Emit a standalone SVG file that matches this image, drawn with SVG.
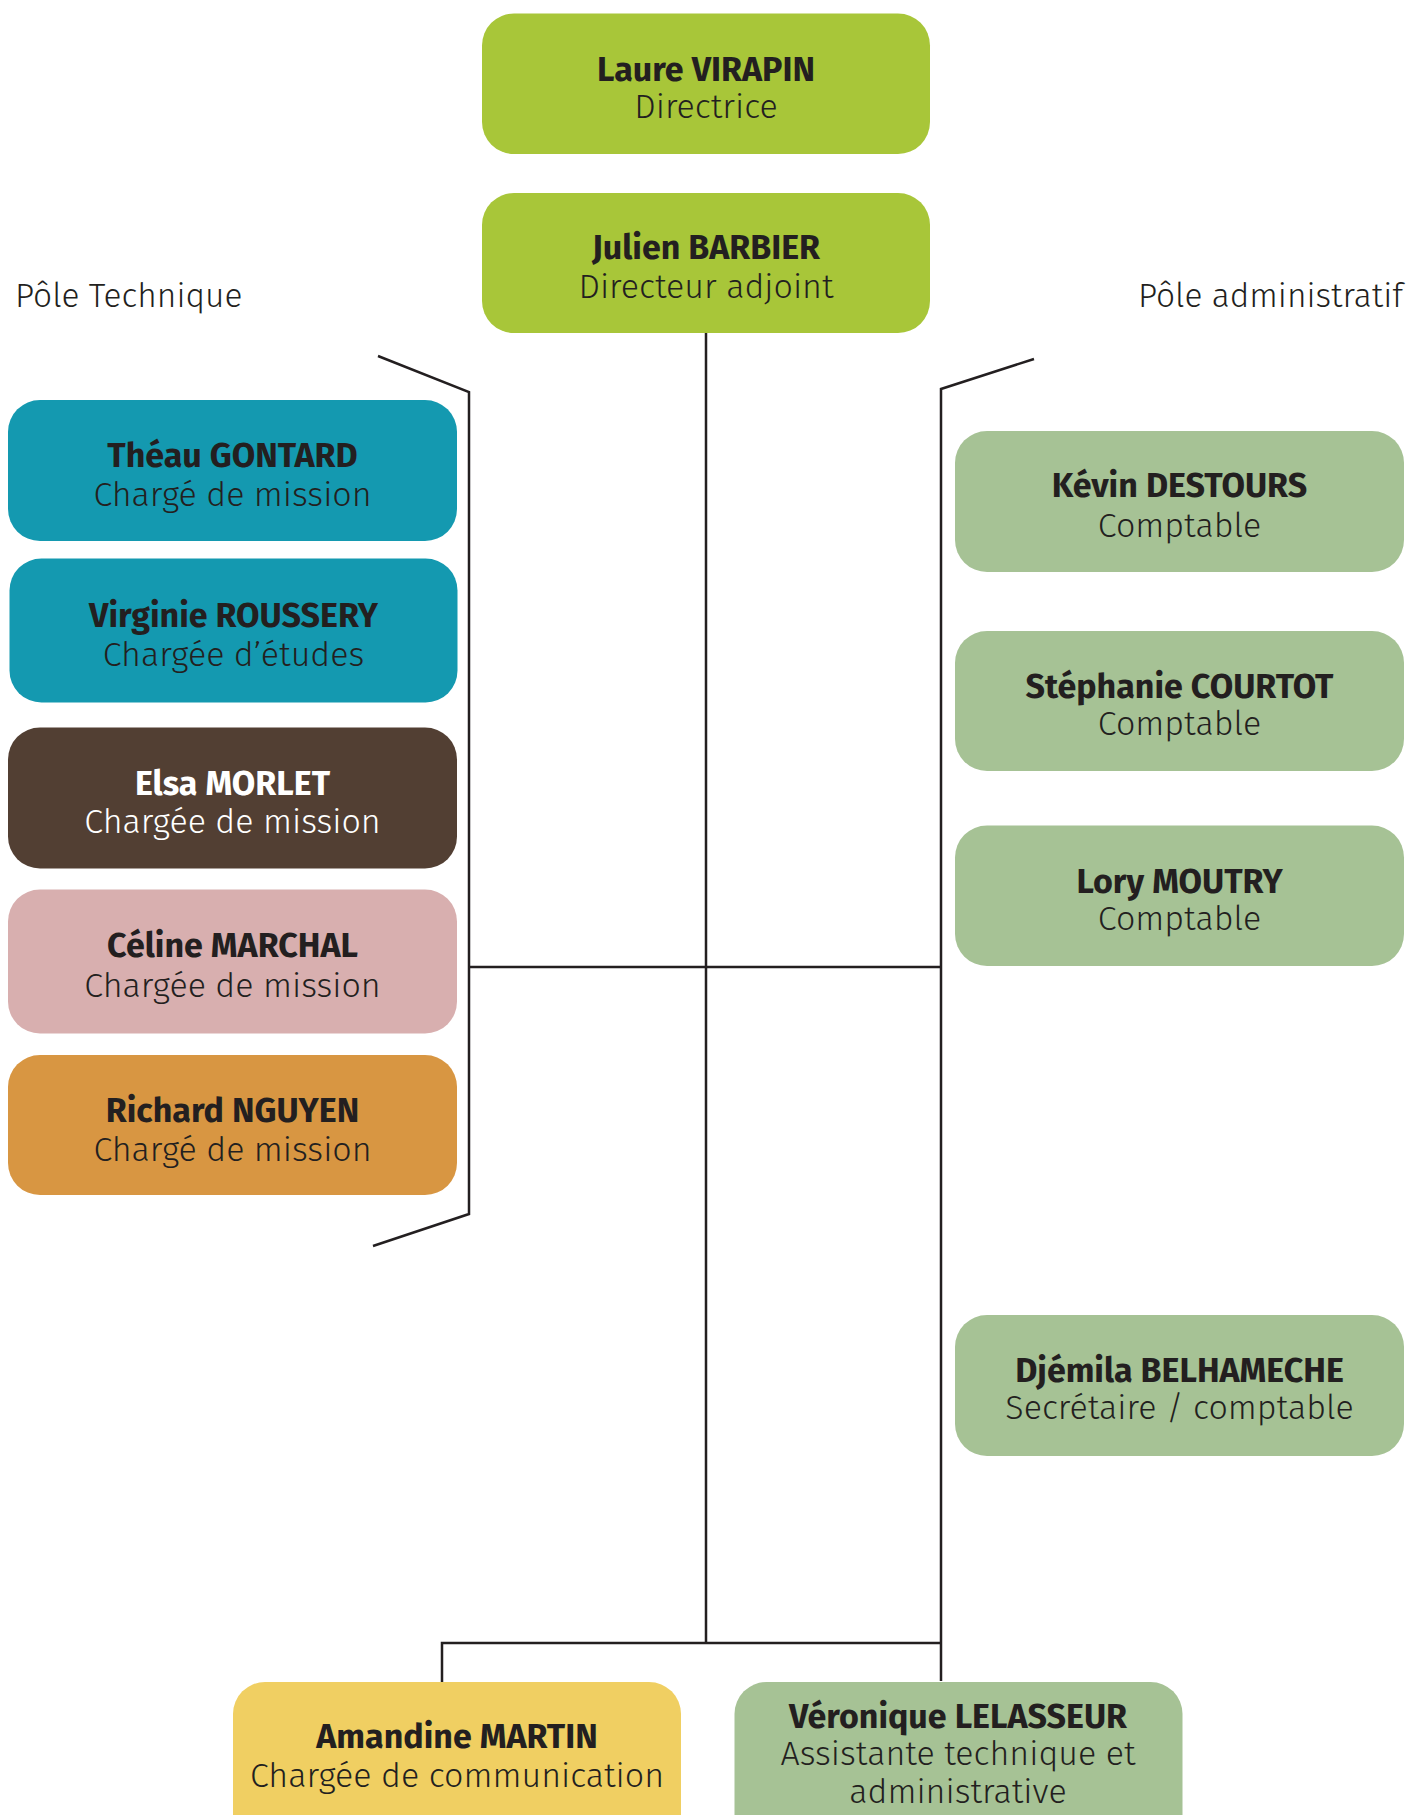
<svg xmlns="http://www.w3.org/2000/svg" width="1410" height="1815" viewBox="0 0 1410 1815">
<style>
.t{font-family:"Fira Sans",Lato,"Noto Sans",sans-serif;font-size:34px;font-weight:300;fill:#231F20;text-anchor:middle}
.b{font-weight:bold}
.w{fill:#FFFFFF}
.lbl{font-family:"Fira Sans",Lato,"Noto Sans",sans-serif;font-size:33.5px;font-weight:300;fill:#231F20}
.ln{fill:none;stroke:#231F20;stroke-width:2.5}
.lime{fill:#A8C639}.teal{fill:#1499B0}.brown{fill:#523F33}.pink{fill:#D8AFAF}.orange{fill:#D89642}.sage{fill:#A6C295}.yellow{fill:#F0CF62}
</style>
<rect width="1410" height="1815" fill="#FFFFFF"/>
<g id="connectors">
<polyline class="ln" points="378,356 469,392 469,1214 373,1246"/>
<polyline class="ln" points="1034,359 941,389 941,1681"/>
<line class="ln" x1="706" y1="333" x2="706" y2="1643"/>
<line class="ln" x1="469" y1="967" x2="941" y2="967"/>
<polyline class="ln" points="442,1683 442,1643 941,1643"/>
</g>
<text class="lbl" x="15" y="307">Pôle Technique</text>
<text class="lbl" x="1403" y="307" text-anchor="end">Pôle administratif</text>
<g id="laure"><rect class="lime" x="482" y="13.5" width="448" height="140.5" rx="32"/><text class="t b" x="706" y="81">Laure VIRAPIN</text><text class="t" x="706" y="118">Directrice</text></g>
<g id="julien"><rect class="lime" x="482" y="193" width="448" height="140" rx="32"/><text class="t b" x="706" y="259">Julien BARBIER</text><text class="t" x="706" y="298">Directeur adjoint</text></g>
<g id="theau"><rect class="teal" x="8" y="400" width="449" height="141" rx="32"/><text class="t b" x="232.5" y="467">Théau GONTARD</text><text class="t" x="232.5" y="506">Chargé de mission</text></g>
<g id="virginie"><rect class="teal" x="9.5" y="558.5" width="448" height="144" rx="32"/><text class="t b" x="233.5" y="627">Virginie ROUSSERY</text><text class="t" x="233.5" y="666">Chargée d’études</text></g>
<g id="elsa"><rect class="brown" x="8" y="727.5" width="449" height="141" rx="32"/><text class="t b w" x="232.5" y="795">Elsa MORLET</text><text class="t w" x="232.5" y="833">Chargée de mission</text></g>
<g id="celine"><rect class="pink" x="8" y="889.5" width="449" height="144" rx="32"/><text class="t b" x="232.5" y="957">Céline MARCHAL</text><text class="t" x="232.5" y="997">Chargée de mission</text></g>
<g id="richard"><rect class="orange" x="8" y="1055" width="449" height="140" rx="32"/><text class="t b" x="232.5" y="1122">Richard NGUYEN</text><text class="t" x="232.5" y="1161">Chargé de mission</text></g>
<g id="kevin"><rect class="sage" x="955" y="431" width="449" height="141" rx="32"/><text class="t b" x="1179.5" y="497">Kévin DESTOURS</text><text class="t" x="1179.5" y="537">Comptable</text></g>
<g id="stephanie"><rect class="sage" x="955" y="631" width="449" height="140" rx="32"/><text class="t b" x="1179.5" y="698">Stéphanie COURTOT</text><text class="t" x="1179.5" y="735">Comptable</text></g>
<g id="lory"><rect class="sage" x="955" y="825.5" width="449" height="140.5" rx="32"/><text class="t b" x="1179.5" y="893">Lory MOUTRY</text><text class="t" x="1179.5" y="930">Comptable</text></g>
<g id="djemila"><rect class="sage" x="955" y="1315" width="449" height="141" rx="32"/><text class="t b" x="1179.5" y="1382">Djémila BELHAMECHE</text><text class="t" x="1179.5" y="1419">Secrétaire / comptable</text></g>
<g id="amandine"><rect class="yellow" x="233" y="1682" width="448" height="170" rx="32"/><text class="t b" x="457" y="1748">Amandine MARTIN</text><text class="t" x="457" y="1787">Chargée de communication</text></g>
<g id="veronique"><rect class="sage" x="734.5" y="1682" width="448" height="170" rx="32"/><text class="t" x="958" y="1728"><tspan class="b" x="958">Véronique LELASSEUR</tspan><tspan x="958" dy="37">Assistante technique et</tspan><tspan x="958" dy="38">administrative</tspan></text></g>
</svg>
